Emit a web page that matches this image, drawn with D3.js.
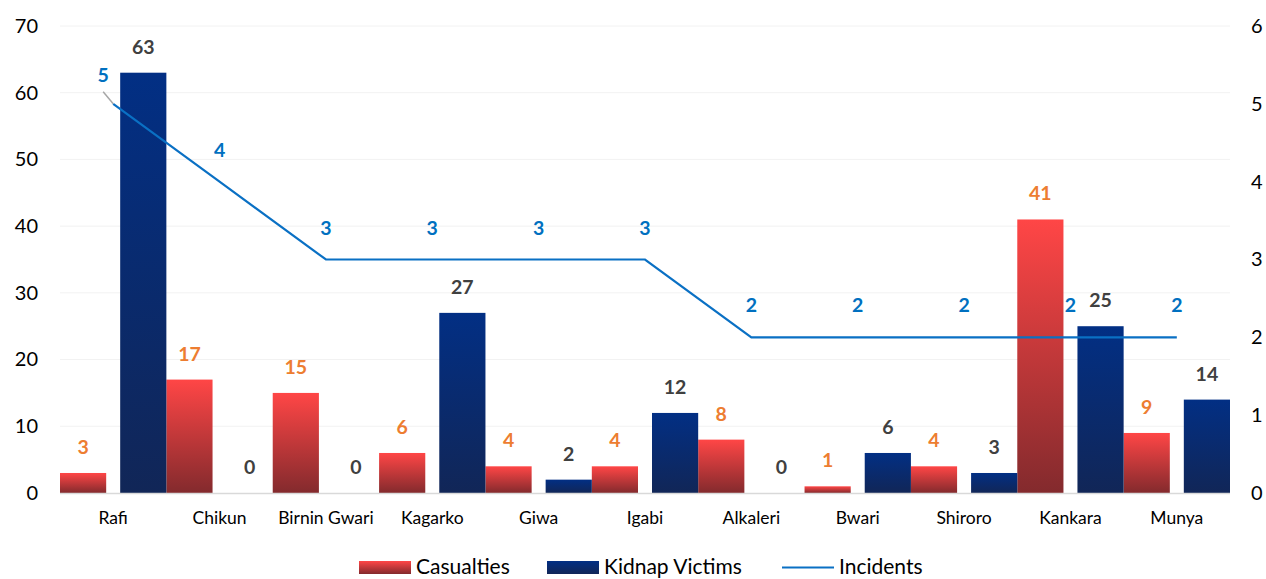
<!DOCTYPE html>
<html>
<head>
<meta charset="utf-8">
<script src="https://cdn.jsdelivr.net/npm/d3@7"></script>
<style>
  html, body { margin: 0; padding: 0; background: #fff; }
  svg { display: block; font-family: Lato, "Open Sans", sans-serif; }
</style>
</head>
<body>
<svg id="chart" width="1266" height="579"></svg>
<script>
// Locations (x categories)
const categories = ["Rafi", "Chikun", "Birnin Gwari", "Kagarko", "Giwa", "Igabi",
                    "Alkaleri", "Bwari", "Shiroro", "Kankara", "Munya"];
// Series values
const casualties = [3, 17, 15, 6, 4, 4, 8, 1, 4, 41, 9];
const kidnapVictims = [63, 0, 0, 27, 2, 12, 0, 6, 3, 25, 14];
const incidents = [5, 4, 3, 3, 3, 3, 2, 2, 2, 2, 2];
// Axis ticks
const leftTicks = [0, 10, 20, 30, 40, 50, 60, 70];
const rightTicks = [0, 1, 2, 3, 4, 5, 6];

const svg = d3.select("#chart");
const margin = { left: 60, right: 36, top: 26, bottom: 86 };
const W = 1266, H = 579;
const x0 = margin.left, x1 = W - margin.right;
const yTop = margin.top, yBot = H - margin.bottom;

const x = d3.scaleBand().domain(categories).range([x0, x1]).padding(0);
const yL = d3.scaleLinear().domain([0, 70]).range([yBot, yTop]);
const yR = d3.scaleLinear().domain([0, 6]).range([yBot, yTop]);

// Gradients for the bars
const defs = svg.append("defs");
function grad(id, top, bottom) {
  const g = defs.append("linearGradient").attr("id", id)
    .attr("x1", 0).attr("y1", 0).attr("x2", 0).attr("y2", 1);
  g.append("stop").attr("offset", "0%").attr("stop-color", top);
  g.append("stop").attr("offset", "100%").attr("stop-color", bottom);
}
grad("gradCas", "#FF4646", "#832A2D");
grad("gradKid", "#022F84", "#112657");

// Gridlines
svg.append("g").selectAll("line").data(leftTicks.filter(d => d > 0)).join("line")
  .attr("x1", x0).attr("x2", x1)
  .attr("y1", d => yL(d)).attr("y2", d => yL(d))
  .attr("stroke", "#F2F2F2").attr("stroke-width", 1);

// Left axis
const leftAxis = svg.append("g").attr("transform", `translate(${x0 - 22},0)`)
  .call(d3.axisLeft(yL).tickValues(leftTicks).tickFormat(d3.format("d"))
    .tickSize(0).tickPadding(0));
leftAxis.select(".domain").remove();
leftAxis.selectAll("text").attr("font-size", 20).attr("fill", "#000")
  .attr("font-family", "Lato, sans-serif");

// Right axis
const rightAxis = svg.append("g").attr("transform", `translate(${x1 + 21},0)`)
  .call(d3.axisRight(yR).tickValues(rightTicks).tickFormat(d3.format("d"))
    .tickSize(0).tickPadding(0));
rightAxis.select(".domain").remove();
rightAxis.selectAll("text").attr("font-size", 20).attr("fill", "#000")
  .attr("font-family", "Lato, sans-serif");

// Bar geometry inside each band
const gap = 14;
const bw = (x.bandwidth() - gap) / 2;
const xCas = c => x(c);
const xKid = c => x(c) + bw + gap;

// Bars
svg.append("g").selectAll("rect").data(categories).join("rect")
  .attr("x", c => xCas(c)).attr("width", bw)
  .attr("y", (c, i) => yL(casualties[i]))
  .attr("height", (c, i) => yBot - yL(casualties[i]))
  .attr("fill", "url(#gradCas)");
svg.append("g").selectAll("rect").data(categories).join("rect")
  .attr("x", c => xKid(c)).attr("width", bw)
  .attr("y", (c, i) => yL(kidnapVictims[i]))
  .attr("height", (c, i) => yBot - yL(kidnapVictims[i]))
  .attr("fill", "url(#gradKid)");

// Baseline
svg.append("line").attr("x1", x0).attr("x2", x1)
  .attr("y1", yBot + 0.5).attr("y2", yBot + 0.5)
  .attr("stroke", "#D9D9D9").attr("stroke-width", 1.5);

// Category labels
svg.append("g").selectAll("text").data(categories).join("text")
  .attr("x", c => x(c) + x.bandwidth() / 2).attr("y", yBot + 31)
  .attr("text-anchor", "middle").attr("font-size", 17.5).attr("fill", "#000")
  .text(c => c);

// Bar value labels
svg.append("g").selectAll("text").data(categories).join("text")
  .attr("x", c => xCas(c) + bw / 2)
  .attr("y", (c, i) => yL(casualties[i]) - 19)
  .attr("text-anchor", "middle").attr("font-size", 19.5).attr("font-weight", "bold")
  .attr("fill", "#ED7D31").text((c, i) => casualties[i]);
svg.append("g").selectAll("text").data(categories).join("text")
  .attr("x", c => xKid(c) + bw / 2)
  .attr("y", (c, i) => yL(kidnapVictims[i]) - 19)
  .attr("text-anchor", "middle").attr("font-size", 19.5).attr("font-weight", "bold")
  .attr("fill", "#404040").text((c, i) => kidnapVictims[i]);

// Incidents line
const cx = c => x(c) + x.bandwidth() / 2;
const line = d3.line().x((d, i) => cx(categories[i])).y(d => yR(d));
svg.append("path").datum(incidents).attr("d", line)
  .attr("fill", "none").attr("stroke", "#0A70C4").attr("stroke-width", 2.2);

// Incidents labels (first one pulled aside with a leader line)
svg.append("g").selectAll("text").data(incidents).join("text")
  .attr("x", (d, i) => cx(categories[i]) - (i === 0 ? 10 : 0))
  .attr("y", (d, i) => yR(d) - (i === 0 ? 22 : 25))
  .attr("text-anchor", "middle").attr("font-size", 19.5).attr("font-weight", "bold")
  .attr("fill", "#0070C0").text(d => d);
svg.append("line")
  .attr("x1", cx(categories[0]) - 10).attr("y1", yR(incidents[0]) - 12)
  .attr("x2", cx(categories[0])).attr("y2", yR(incidents[0]))
  .attr("stroke", "#A6A6A6").attr("stroke-width", 1.5);

// Legend
const lg = svg.append("g").attr("transform", "translate(0,567)");
lg.append("rect").attr("x", 359).attr("y", -6).attr("width", 52).attr("height", 13)
  .attr("fill", "url(#gradCas)");
lg.append("text").attr("x", 416).attr("y", 7).attr("font-size", 21).attr("fill", "#000")
  .text("Casualties");
lg.append("rect").attr("x", 547).attr("y", -6).attr("width", 52).attr("height", 13)
  .attr("fill", "url(#gradKid)");
lg.append("text").attr("x", 604).attr("y", 7).attr("font-size", 21).attr("fill", "#000")
  .text("Kidnap Victims");
lg.append("line").attr("x1", 782).attr("x2", 834).attr("y1", 0.5).attr("y2", 0.5)
  .attr("stroke", "#0A70C4").attr("stroke-width", 2.2);
lg.append("text").attr("x", 839).attr("y", 7).attr("font-size", 21).attr("fill", "#000")
  .text("Incidents");
</script>
</body>
</html>
